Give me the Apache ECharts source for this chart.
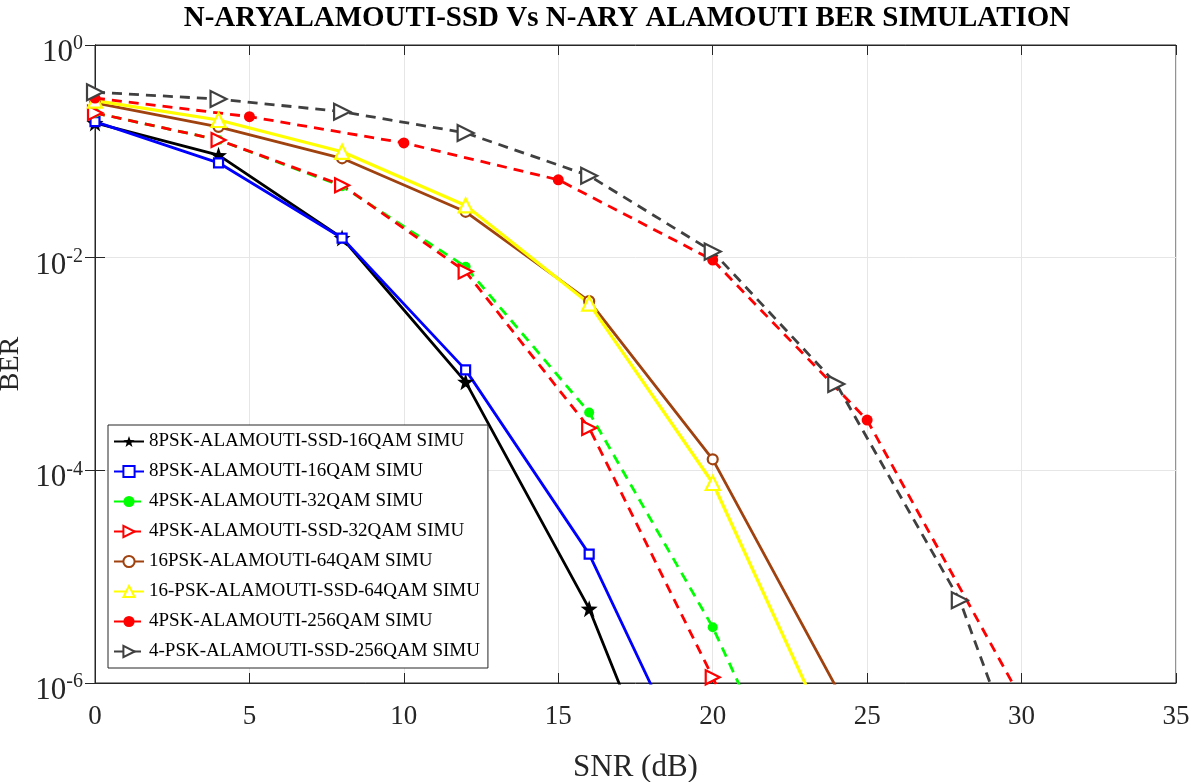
<!DOCTYPE html>
<html>
<head>
<meta charset="utf-8">
<script src="https://cdn.jsdelivr.net/npm/echarts@6/dist/echarts.min.js"></script>
<style>
  html, body { margin: 0; padding: 0; background: #fff; }
  #chart { width: 1198px; height: 782px; }
</style>
</head>
<body>
<div id="chart"></div>
<script>
// SNR sample points (dB)
const snrStep4 = [0, 4, 8, 12, 16, 20, 24, 28, 32];
const snrStep5 = [0, 5, 10, 15, 20, 25, 30];

// BER per configuration
const ber8pskSsd16qam = [0.185, 0.092, 0.0153, 6.8e-4, 5.0e-6, 6.3e-9];
const ber8psk16qam    = [0.19, 0.078, 0.0153, 8.8e-4, 1.63e-5, 5.7e-8];
const ber4psk32qam    = [0.23, 0.128, 0.047, 0.0082, 3.5e-4, 3.35e-6, 1.0e-8];
const ber4pskSsd32qam = [0.23, 0.128, 0.048, 0.0074, 2.5e-4, 1.13e-6, 4.0e-9];
const ber16psk64qam   = [0.285, 0.17, 0.086, 0.027, 0.0039, 1.27e-4, 9.1e-7];
const ber16pskSsd64qam= [0.30, 0.197, 0.099, 0.031, 0.0037, 7.6e-5, 2.3e-7];
const ber4psk256qam   = [0.317, 0.212, 0.12, 0.054, 0.0095, 2.97e-4, 7.0e-7];
const ber4pskSsd256qam= [0.36, 0.31, 0.236, 0.149, 0.059, 0.0114, 6.5e-4, 6.0e-6, 4.0e-9];

const xTicks = [0, 5, 10, 15, 20, 25, 30, 35];

const seriesNames = [
  '8PSK-ALAMOUTI-SSD-16QAM SIMU',
  '8PSK-ALAMOUTI-16QAM SIMU',
  '4PSK-ALAMOUTI-32QAM SIMU',
  '4PSK-ALAMOUTI-SSD-32QAM SIMU',
  '16PSK-ALAMOUTI-64QAM SIMU',
  '16-PSK-ALAMOUTI-SSD-64QAM SIMU',
  '4PSK-ALAMOUTI-256QAM SIMU',
  '4-PSK-ALAMOUTI-SSD-256QAM SIMU'
];

const chartTitle = 'N-ARYALAMOUTI-SSD Vs N-ARY ALAMOUTI BER SIMULATION';

const pairs = (xs, ys) => ys.map((y, i) => [xs[i], y]);
const serif = '"Liberation Serif", "Times New Roman", serif';
const dash = [10, 7];

function lineSeries(name, xs, ys, color, opts) {
  return {
    name: name,
    type: 'line',
    data: pairs(xs, ys),
    clip: true,
    symbol: opts.symbol,
    symbolSize: opts.size,
    symbolRotate: opts.rotate || 0,
    showAllSymbol: true,
    lineStyle: { color: color, width: opts.width || 2.8, type: opts.dashed ? dash : 'solid' },
    itemStyle: {
      color: opts.hollow ? '#ffffff' : color,
      borderColor: color,
      borderWidth: opts.hollow ? 2.2 : 0
    },
    emphasis: { disabled: true },
    animation: false
  };
}

const series = [
  lineSeries(seriesNames[0], snrStep4, ber8pskSsd16qam, '#000000', { symbol: 'path://M0,-10 L2.35,-3.24 L9.51,-3.09 L3.80,1.24 L5.88,8.09 L0,4 L-5.88,8.09 L-3.80,1.24 L-9.51,-3.09 L-2.35,-3.24 Z', size: 17 }),
  lineSeries(seriesNames[1], snrStep4, ber8psk16qam, '#0000ff', { symbol: 'rect', size: 9, hollow: true }),
  lineSeries(seriesNames[2], snrStep4, ber4psk32qam, '#00ff00', { symbol: 'circle', size: 10, dashed: true }),
  lineSeries(seriesNames[3], snrStep4, ber4pskSsd32qam, '#ff0000', { symbol: 'triangle', size: 14, rotate: -90, hollow: true, dashed: true }),
  lineSeries(seriesNames[4], snrStep4, ber16psk64qam, '#a0420f', { symbol: 'circle', size: 10, hollow: true }),
  lineSeries(seriesNames[5], snrStep4, ber16pskSsd64qam, '#ffff00', { symbol: 'triangle', size: 14, hollow: true, width: 3.2 }),
  lineSeries(seriesNames[6], snrStep5, ber4psk256qam, '#ff0000', { symbol: 'circle', size: 11, dashed: true }),
  lineSeries(seriesNames[7], snrStep4, ber4pskSsd256qam, '#404040', { symbol: 'triangle', size: 16, rotate: -90, hollow: true, dashed: true })
];

const axisColor = '#262626';

const chart = echarts.init(document.getElementById('chart'), null, { renderer: 'canvas' });
chart.setOption({
  backgroundColor: '#ffffff',
  animation: false,
  graphic: [{
    type: 'text',
    x: 627,
    y: 4,
    style: {
      text: chartTitle,
      align: 'center',
      verticalAlign: 'top',
      fontFamily: serif,
      fontWeight: 'bold',
      fontSize: 29,
      fill: '#000'
    }
  }],
  grid: {
    left: 95, right: 22, top: 45, bottom: 99,
    outerBoundsMode: 'none',
    containLabel: false,
    show: true, borderColor: axisColor, borderWidth: 1, backgroundColor: 'transparent'
  },
  legend: {
    orient: 'vertical',
    left: 108,
    top: 425,
    data: seriesNames,
    backgroundColor: '#ffffff',
    borderColor: axisColor,
    borderWidth: 1,
    borderRadius: 0,
    padding: [7, 8, 7, 5],
    itemWidth: 30,
    itemHeight: 14,
    itemGap: 11,
    textStyle: { fontFamily: serif, fontSize: 19, color: '#000' },
    selectedMode: false
  },
  xAxis: [
    {
      type: 'value', min: 0, max: 35, interval: 5,
      name: 'SNR (dB)', nameLocation: 'middle', nameGap: 69,
      nameTextStyle: { fontFamily: serif, fontSize: 31, color: '#262626' },
      axisLine: { show: true, lineStyle: { color: axisColor, width: 1 } },
      axisTick: { show: true, inside: true, length: 10, lineStyle: { color: axisColor } },
      axisLabel: {
        fontFamily: serif, fontSize: 27, color: '#262626', margin: 20,
        formatter: v => xTicks.includes(v) ? String(v) : ''
      },
      splitLine: { show: true, lineStyle: { color: '#e6e6e6', width: 1 } }
    },
    {
      type: 'value', min: 0, max: 35, interval: 5, position: 'top',
      axisLine: { show: true, lineStyle: { color: axisColor, width: 1 } },
      axisTick: { show: true, inside: true, length: 10, lineStyle: { color: axisColor } },
      axisLabel: { show: false },
      splitLine: { show: false }
    }
  ],
  yAxis: [
    {
      type: 'log', logBase: 10, min: 1e-6, max: 1, interval: 2,
      name: 'BER', nameLocation: 'middle', nameGap: 60,
      nameTextStyle: { fontFamily: serif, fontSize: 28, color: '#262626' },
      axisLine: { show: true, lineStyle: { color: axisColor, width: 1 } },
      axisTick: { show: true, inside: true, length: 10, lineStyle: { color: axisColor } },
      minorTick: { show: false },
      axisLabel: {
        margin: 12,
        padding: [16, 0, 0, 0],
        formatter: v => {
          const e = Math.round(Math.log10(v));
          return '{b|10}{s|' + e + '}';
        },
        rich: {
          b: { fontFamily: serif, fontSize: 31, color: '#262626', lineHeight: 34 },
          s: { fontFamily: serif, fontSize: 20, color: '#262626', verticalAlign: 'top', padding: [0, 0, 18, 0] }
        }
      },
      splitLine: { show: true, lineStyle: { color: '#e6e6e6', width: 1 } }
    },
    {
      type: 'log', logBase: 10, min: 1e-6, max: 1, interval: 2, position: 'right',
      axisLine: { show: true, lineStyle: { color: axisColor, width: 1 } },
      axisTick: { show: true, inside: true, length: 10, lineStyle: { color: axisColor } },
      axisLabel: { show: false },
      splitLine: { show: false }
    }
  ],
  series: series
});
</script>
</body>
</html>
